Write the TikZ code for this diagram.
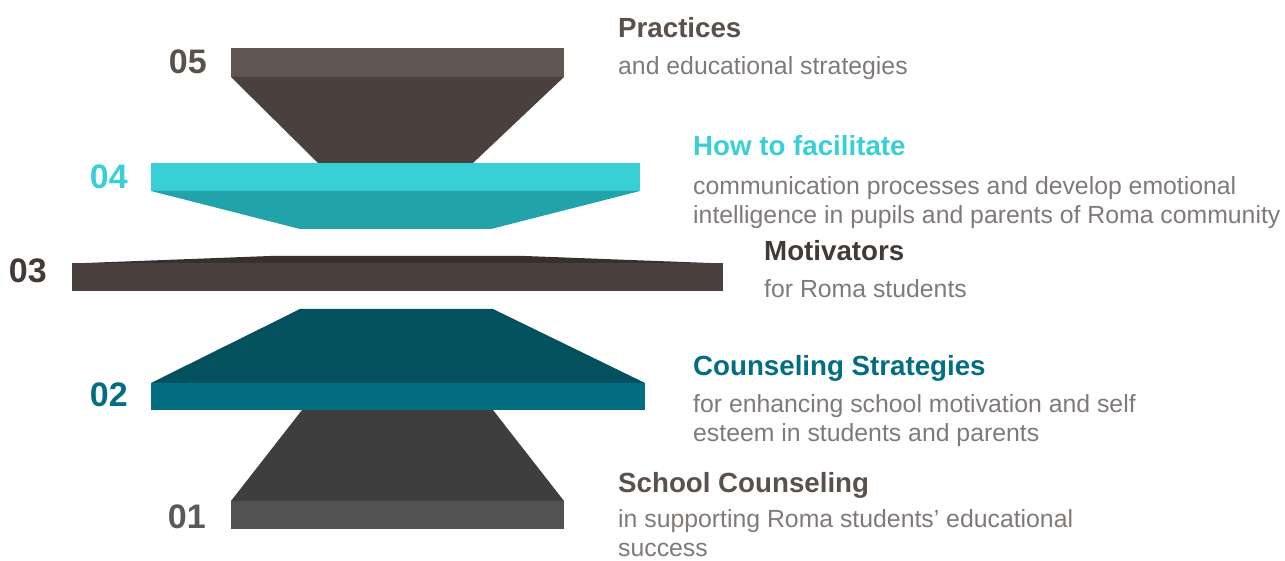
\documentclass[tikz,border=0pt]{standalone}
\usepackage{fontspec}
\setmainfont{Liberation Sans}
\definecolor{barfive}{HTML}{605753}
\definecolor{trapfive}{HTML}{4A403D}
\definecolor{barfour}{HTML}{38D0D6}
\definecolor{trapfour}{HTML}{22A3A9}
\definecolor{barthree}{HTML}{4A403D}
\definecolor{capthree}{HTML}{37302D}
\definecolor{trapthree}{HTML}{03505F}
\definecolor{bartwo}{HTML}{036E82}
\definecolor{trapone}{HTML}{3E3E3E}
\definecolor{barone}{HTML}{525252}
\definecolor{titledark}{HTML}{5A504C}
\definecolor{titledarker}{HTML}{433A37}
\definecolor{bodygrey}{HTML}{7F7A78}
\definecolor{numone}{HTML}{595959}
\tikzset{
  numlabel/.style={anchor=base east, inner sep=0pt, font=\fontsize{34}{40}\selectfont\bfseries},
  titletext/.style={anchor=base west, inner sep=0pt, font=\fontsize{27.7}{33}\selectfont\bfseries},
  bodytext/.style={anchor=base west, inner sep=0pt, align=left, text=bodygrey, font=\fontsize{24.8}{29.5}\selectfont},
}
\begin{document}
\begin{tikzpicture}[x=1pt,y=-1pt]
\useasboundingbox (0,0) rectangle (1285,561);
% level 05
\fill[barfive] (231,48) rectangle (564,77);
\fill[trapfive] (231,77) -- (564,77) -- (473,163) -- (318,163) -- cycle;
% level 04
\fill[barfour] (151,163) rectangle (640,191);
\fill[trapfour] (151,191) -- (640,191) -- (491,229) -- (300,229) -- cycle;
% level 03
\fill[capthree] (72,263.5) -- (270,256) -- (525,256) -- (723,263.5) -- cycle;
\fill[barthree] (72,263.5) rectangle (723,291);
% level 02
\fill[trapthree] (300,309) -- (493,309) -- (645,383) -- (151,383) -- cycle;
\fill[bartwo] (151,383) rectangle (645,410);
% level 01
\fill[trapone] (302,410) -- (493,410) -- (564,501) -- (231,501) -- cycle;
\fill[barone] (231,501) rectangle (564,529);
% numbers
\node[numlabel, text=titledark] (n5) at (207,74) {05};
\node[numlabel, text=barfour] (n4) at (128,189) {04};
\node[numlabel, text=titledarker] (n3) at (47,283) {03};
\node[numlabel, text=bartwo] (n2) at (128,406) {02};
\node[numlabel, text=numone] (n1) at (206,528) {01};
% texts
\node[titletext, text=titledark] (t5) at (618,38) {Practices};
\node[bodytext] (b5) at (618,75) {and educational strategies};
\node[titletext, text=barfour] (t4) at (693,156) {How to facilitate};
\node[bodytext, anchor=north west] (b4) at (693,176) {communication processes and develop emotional\\intelligence in pupils and parents of Roma community};
\node[titletext, text=titledarker] (t3) at (764,261) {Motivators};
\node[bodytext] (b3) at (764,298) {for Roma students};
\node[titletext, text=bartwo] (t2) at (693,375) {Counseling Strategies};
\node[bodytext, anchor=north west] (b2) at (693,394) {for enhancing school motivation and self\\esteem in students and parents};
\node[titletext, text=titledark] (t1) at (618,492) {School Counseling};
\node[bodytext] (b1a) at (618,527) {in supporting Roma students’ educational};
\node[bodytext, text depth=0pt] (b1b) at (618,556) {success};
\end{tikzpicture}
\end{document}
